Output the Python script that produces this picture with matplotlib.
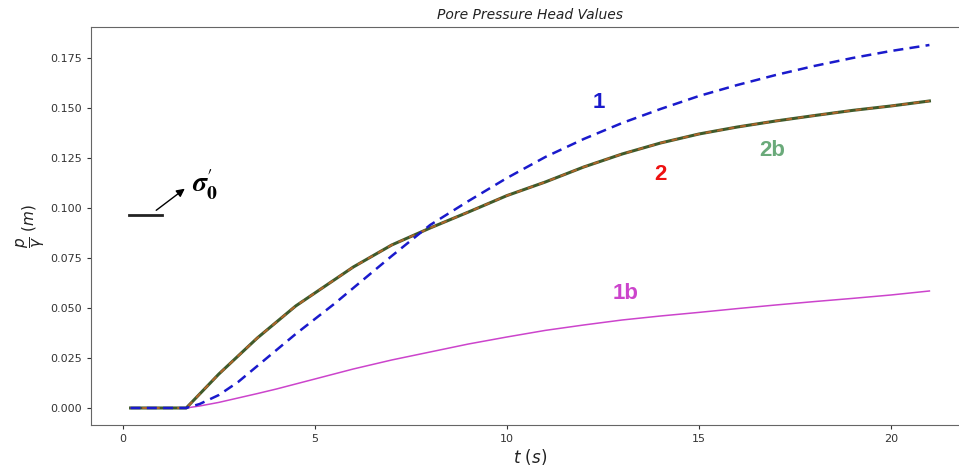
import numpy as np
import matplotlib
matplotlib.use('Agg')
import matplotlib.pyplot as plt

# time samples (s)
t = [0.2, 1.0, 1.65, 2.0, 2.5, 3.0, 3.5, 4.0, 4.5, 5.0, 5.5, 6.0, 7.0, 8.0, 9.0,
     10.0, 11.0, 12.0, 13.0, 14.0, 15.0, 16.0, 17.0, 18.0, 19.0, 20.0, 21.0]

# curve 1 (blue dashed)
head_1 = [0.0, 0.0, 0.0, 0.002, 0.0065, 0.013, 0.021, 0.029, 0.037, 0.0445, 0.052,
          0.060, 0.076, 0.0915, 0.1035, 0.115, 0.1255, 0.1345, 0.1425, 0.1495,
          0.156, 0.1615, 0.1665, 0.171, 0.175, 0.1785, 0.1815]
# curve 2 / 2b (coincident)
head_2 = [0.0, 0.0, 0.0, 0.007, 0.017, 0.026, 0.035, 0.043, 0.051, 0.0575, 0.064,
          0.0705, 0.0815, 0.090, 0.098, 0.1062, 0.113, 0.1205, 0.127, 0.1325,
          0.137, 0.1405, 0.1435, 0.1462, 0.1488, 0.151, 0.1535]
# curve 1b (magenta)
head_1b = [0.0, 0.0, 0.0, 0.001, 0.0028, 0.005, 0.0072, 0.0095, 0.012, 0.0145, 0.017,
           0.0195, 0.024, 0.028, 0.032, 0.0355, 0.0388, 0.0415, 0.044, 0.046,
           0.0478, 0.0497, 0.0515, 0.0532, 0.0548, 0.0565, 0.0585]

fig = plt.figure(figsize=(9.59, 4.71), dpi=100)
ax = fig.add_axes([0.0949, 0.0977, 0.9155, 0.845])

ax.plot(t, head_1b, color='#cc44cc', lw=1.1)
ax.plot(t, head_2, color='#3f5a2a', lw=2.2)
ax.plot(t, head_2, color='#b0652a', lw=1.4, dashes=(3, 3))
ax.plot(t, head_1, color='#1a1acc', lw=1.8, dashes=(4, 2.5))

ax.set_xlim(-0.83, 22.03)
ax.set_ylim(-0.0085, 0.1905)
ax.set_xticks([0, 5, 10, 15, 20])
ax.set_yticks([0.0, 0.025, 0.05, 0.075, 0.1, 0.125, 0.15, 0.175])
ax.set_yticklabels(['0.000', '0.025', '0.050', '0.075', '0.100', '0.125', '0.150', '0.175'])
ax.tick_params(labelsize=8, colors='#333333', length=3)
for s in ax.spines.values():
    s.set_color('#666666')
ax.spines['right'].set_visible(False)  # cut off in the original

ax.set_title('Pore Pressure Head Values', fontsize=10, style='italic', color='#222222')
ax.set_xlabel(r'$t\ (s)$', fontsize=12, color='#222222', labelpad=2)
ax.set_ylabel(r'$\dfrac{p}{\gamma}\ (m)$', fontsize=11, color='#222222', labelpad=2)

# curve labels
lab = dict(fontsize=16, fontweight='bold', family='Liberation Sans', ha='center', va='center')
ax.text(12.4, 0.1525, '1', color='#1a1acc', **lab)
ax.text(14.0, 0.1165, '2', color='#ee1111', **lab)
ax.text(16.9, 0.1285, '2b', color='#6aaa7a', **lab)
ax.text(13.1, 0.057, '1b', color='#cc44cc', **lab)

# sigma'_0 marker
ax.plot([0.16, 1.02], [0.0965, 0.0965], color='#222222', lw=2)
ax.annotate('', xy=(1.67, 0.1105), xytext=(0.81, 0.098),
            arrowprops=dict(arrowstyle='-|>', color='black', lw=1, mutation_scale=12))
ax.text(1.8, 0.1115, r"$\boldsymbol{\sigma}_{\mathbf{0}}^{\prime}$", fontsize=20,
        math_fontfamily='stix', ha='left', va='center')

fig.savefig('out.png', dpi=100)
